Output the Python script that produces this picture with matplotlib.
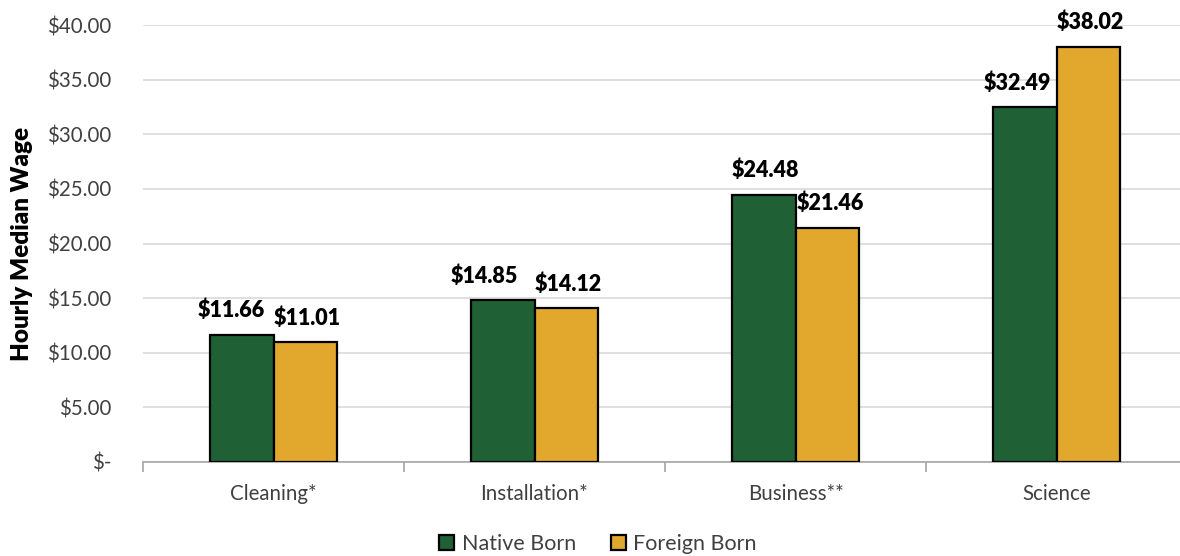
import matplotlib.pyplot as plt
import numpy as np
from matplotlib.ticker import FuncFormatter, MultipleLocator

# hourly median wage by occupation group
categories = ['Cleaning*', 'Installation*', 'Business**', 'Science']
native_born = [11.66, 14.85, 24.48, 32.49]
foreign_born = [11.01, 14.12, 21.46, 38.02]

GREEN = '#1F6135'
GOLD = '#E1A82D'
TEXT = '#404040'

plt.rcParams['font.family'] = ['Lato', 'DejaVu Sans']

W, H = 1180, 556
fig = plt.figure(figsize=(W / 100, H / 100), dpi=100)
# plot area in pixels: left 143, top 25, bottom 462, category width ~261
ax = fig.add_axes([143 / W, 1 - 462 / H, 1044 / W, 437 / H])

x = np.arange(len(categories))
bw = 0.245
b1 = ax.bar(x - bw / 2, native_born, bw, color=GREEN, edgecolor='black', linewidth=1.6,
            label='Native Born', zorder=3)
b2 = ax.bar(x + bw / 2, foreign_born, bw, color=GOLD, edgecolor='black', linewidth=1.6,
            label='Foreign Born', zorder=3)

# value labels, nudged sideways so neighbours don't collide
nudge_n = [-10, -18, 2, -7]
nudge_f = [2, 2, 3, 2]
for bars, vals, nudge in [(b1, native_born, nudge_n), (b2, foreign_born, nudge_f)]:
    for rect, v, dx in zip(bars, vals, nudge):
        ax.annotate(f'${v:.2f}', (rect.get_x() + rect.get_width() / 2, v),
                    xytext=(dx * 0.72, 9.5), textcoords='offset points',
                    ha='center', va='bottom', fontsize=15.5, fontweight='heavy',
                    color='black')

ax.set_xlim(-0.5, 3.5)
ax.set_ylim(0, 40)
ax.yaxis.set_major_locator(MultipleLocator(5))
ax.yaxis.set_major_formatter(FuncFormatter(lambda v, p: '$-' if v == 0 else f'${v:.2f}'))
ax.grid(axis='y', color='#D9D9D9', linewidth=1.2, zorder=0)
ax.set_axisbelow(True)

ax.set_xticks(x)
ax.set_xticklabels(categories)
ax.tick_params(axis='x', length=0, pad=16, labelsize=14.8, labelcolor=TEXT)
ax.tick_params(axis='y', length=0, pad=23, labelsize=14.8, labelcolor=TEXT)
# category separators below the axis line
ax.set_xticks(np.arange(len(categories) + 1) - 0.5, minor=True)
ax.tick_params(axis='x', which='minor', length=7, width=1.2, color='#A6A6A6', direction='out')

for s in ['top', 'right', 'left']:
    ax.spines[s].set_visible(False)
ax.spines['bottom'].set_color('#A6A6A6')
ax.spines['bottom'].set_linewidth(1.2)

ax.set_ylabel('Hourly Median Wage', fontsize=17.5, fontweight='heavy', color='black')
ax.yaxis.set_label_coords(-110 / 1044, 0.5)

fig.legend(handles=[b1, b2], loc='center', bbox_to_anchor=(598 / W, 1 - 544 / H),
           ncol=2, frameon=False, fontsize=15.5, handlelength=0.7, handleheight=0.7,
           handletextpad=0.35, columnspacing=1.6, labelcolor=TEXT)

fig.savefig('out.png', dpi=100)
